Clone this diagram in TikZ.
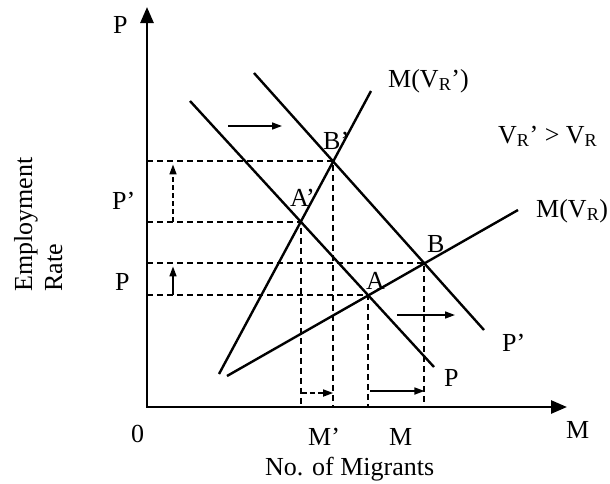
\documentclass[tikz,border=0pt]{standalone}
\usepackage{fontspec}
\setmainfont{Liberation Serif}
\usetikzlibrary{arrows.meta}
\begin{document}
\begin{tikzpicture}[x=1pt,y=-1pt,
  lbl/.style={anchor=base west,inner sep=0pt,font=\fontsize{26}{30}\selectfont},
  curve/.style={line width=2.4pt},
  axis/.style={line width=2.7pt,line cap=rect,-{Triangle[length=16pt,width=13pt]}},
  guide/.style={line width=2pt,dash pattern=on 6pt off 4pt},
  shiftarrow/.style={line width=1.6pt,-{Triangle[length=10pt,width=7pt]}},
  dshiftarrow/.style={shiftarrow,dash pattern=on 5pt off 3pt}]
\useasboundingbox (0,0) rectangle (610,483);
% axes
\coordinate (O) at (147,407);
\coordinate (ytop) at (147,7);
\coordinate (xend) at (567,407);
% curves
\coordinate (d1a) at (190,101); \coordinate (d1b) at (434,367);
\coordinate (d2a) at (254,73);  \coordinate (d2b) at (484,330);
\coordinate (s1a) at (219,374); \coordinate (s1b) at (371,91);
\coordinate (s2a) at (227,376); \coordinate (s2b) at (518,210);
\coordinate (A)  at (intersection of d1a--d1b and s2a--s2b);
\coordinate (B)  at (intersection of d2a--d2b and s2a--s2b);
\coordinate (Ap) at (intersection of d1a--d1b and s1a--s1b);
\coordinate (Bp) at (intersection of d2a--d2b and s1a--s1b);
% dashed guides
\draw[guide] (Bp -| O) -- (Bp) -- (Bp |- O);
\draw[guide] (Ap -| O) -- (Ap) -- (Ap |- O);
\draw[guide] (B -| O) -- (B) -- (B |- O);
\draw[guide] (A -| O) -- (A) -- (A |- O);
% curves
\draw[curve] (d1a) -- (d1b);
\draw[curve] (d2a) -- (d2b);
\draw[curve] (s1a) -- (s1b);
\draw[curve] (s2a) -- (s2b);
\draw[axis] (O) -- (ytop);
\draw[axis] (O) -- (xend);
% shift arrows
\coordinate (h1a) at (228,126); \coordinate (h1b) at (282,126);
\coordinate (h2a) at (397,315); \coordinate (h2b) at (455,315);
\draw[shiftarrow] (h1a) -- (h1b);
\draw[shiftarrow] (h2a) -- (h2b);
\draw[dshiftarrow] ([xshift=26pt]Ap -| O) -- ([xshift=26pt,yshift=-3pt]Bp -| O);
\draw[shiftarrow] ([xshift=26pt]A -| O) -- ([xshift=26pt,yshift=-3pt]B -| O);
\draw[dshiftarrow] ([xshift=1pt,yshift=14pt]Ap |- O) -- ([yshift=14pt]Bp |- O);
\draw[shiftarrow] ([xshift=2pt,yshift=16pt]A |- O) -- ([yshift=16pt]B |- O);
% labels
\node[lbl] (lP) at (113,33) {P};
\node[lbl] (lPp) at (112,209) {P’};
\node[lbl] (lP2) at (115,290) {P};
\node[lbl] (l0) at (131,442) {0};
\node[lbl] (lMp) at (308,445) {M’};
\node[lbl] (lM) at (389,445) {M};
\node[lbl] (lMx) at (566,438) {M};
\node[lbl] (lX) at (265,475) {No. of Migrants};
\node[lbl,rotate=90] (lY1) at (32,292) {Employment};
\node[lbl,rotate=90] (lY2) at (62,292) {Rate};
\node[lbl] (lMVRp) at (388,87) {M(V\textsubscript{R}’)};
\node[lbl] (lcmp) at (498,143) {V\textsubscript{R}’ > V\textsubscript{R}};
\node[lbl] (lMVR) at (536,217) {M(V\textsubscript{R})};
\node[lbl] (lBp) at (323,149) {B’};
\node[lbl] (lAp) at (290,206) {A’};
\node[lbl] (lA) at (366,289) {A};
\node[lbl] (lB) at (427,252) {B};
\node[lbl] (lPr) at (444,386) {P};
\node[lbl] (lPpr) at (502,351) {P’};
\end{tikzpicture}
\end{document}
